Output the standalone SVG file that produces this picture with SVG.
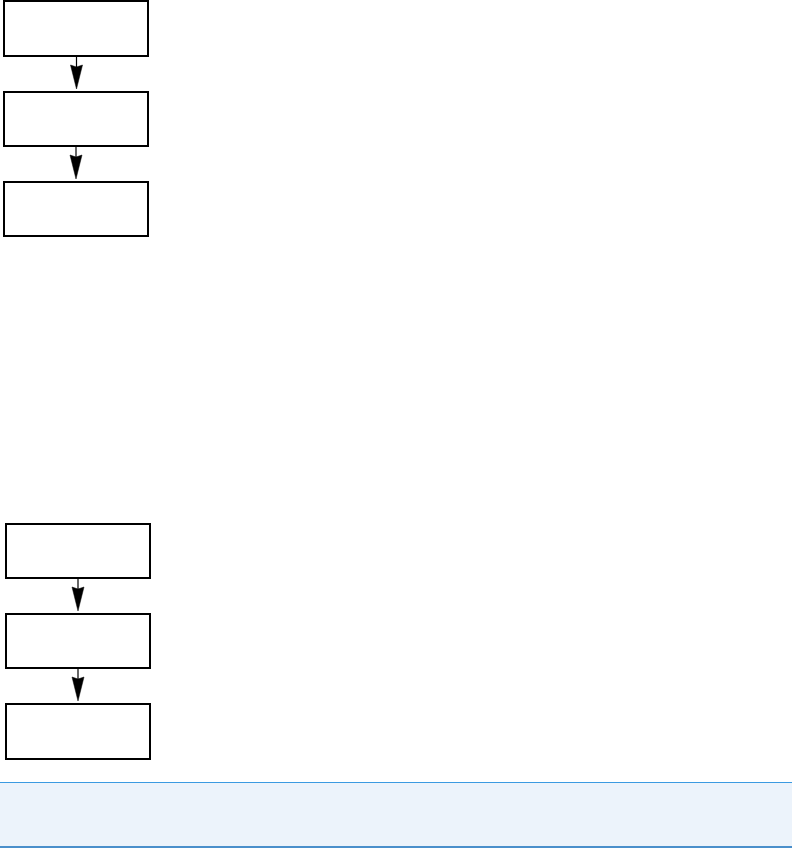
<svg xmlns="http://www.w3.org/2000/svg" width="792" height="848" viewBox="0 0 792 848">
<style>
.box{fill:#fff;stroke:#000;stroke-width:2}
.edge{stroke:#000;stroke-width:1.2;fill:none}
.head{fill:#000;stroke:#000;stroke-width:0.5}
</style>
<rect width="792" height="848" fill="#fff"/>
<g id="n1"><rect class="box" x="4" y="1" width="144" height="55"/></g>
<g id="n2"><rect class="box" x="4" y="92" width="144" height="54"/></g>
<g id="n3"><rect class="box" x="4" y="182" width="144" height="54"/></g>
<g id="n4"><rect class="box" x="6" y="524" width="144" height="54"/></g>
<g id="n5"><rect class="box" x="6" y="614" width="144" height="54"/></g>
<g id="n6"><rect class="box" x="6" y="704" width="144" height="55"/></g>
<g id="connectors">
<line class="edge" x1="76.5" y1="56" x2="76.5" y2="67"/>
<polygon class="head" points="70.5,65 76.5,67 82.5,65 76.5,89"/>
<line class="edge" x1="76" y1="146" x2="76" y2="157"/>
<polygon class="head" points="70,155 76,157 82,155 76,179"/>
<line class="edge" x1="78" y1="578" x2="78" y2="589"/>
<polygon class="head" points="72,587 78,589 84,587 78,611"/>
<line class="edge" x1="78" y1="668" x2="78" y2="679"/>
<polygon class="head" points="72,677 78,679 84,677 78,701"/>
</g>
<g id="banner">
<rect x="0" y="782" width="792" height="65" fill="#ECF3FB"/>
<line x1="0" y1="782.5" x2="792" y2="782.5" stroke="#3B9AE1" stroke-width="1"/>
<line x1="0" y1="847" x2="792" y2="847" stroke="#4A8FCB" stroke-width="2"/>
</g>
</svg>
